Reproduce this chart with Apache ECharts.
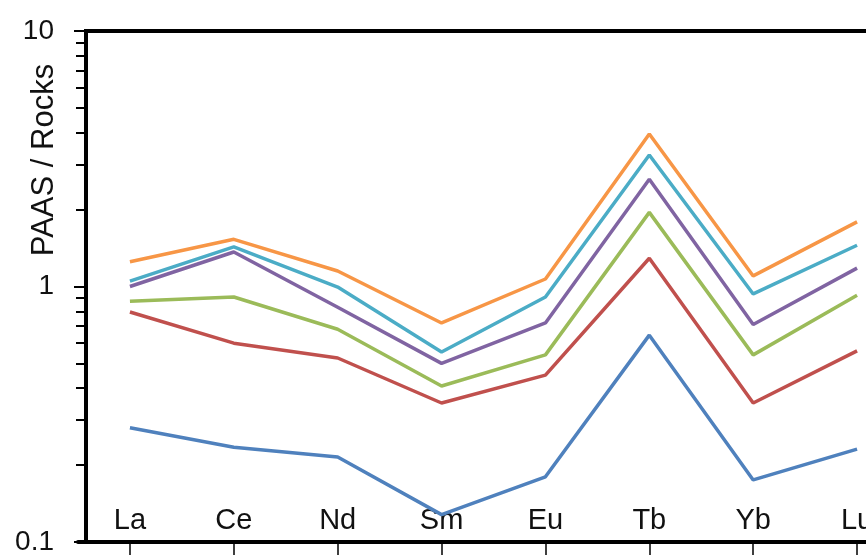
<!DOCTYPE html>
<html>
<head>
<meta charset="utf-8">
<script src="https://cdn.jsdelivr.net/npm/echarts@6/dist/echarts.min.js"></script>
<style>
  html, body { margin: 0; padding: 0; background: #fff; }
  #chart { width: 866px; height: 555px; }
</style>
</head>
<body>
<div id="chart"></div>
<script>
  // rare earth elements on the x axis
  const elements = ["La", "Ce", "Nd", "Sm", "Eu", "Tb", "Yb", "Lu"];

  // PAAS / Rocks ratios, one list per sample
  const sample1 = [0.28, 0.235, 0.215, 0.128, 0.18, 0.645, 0.175, 0.231];
  const sample2 = [0.795, 0.6, 0.525, 0.35, 0.45, 1.29, 0.35, 0.56];
  const sample3 = [0.875, 0.91, 0.68, 0.408, 0.54, 1.95, 0.54, 0.925];
  const sample4 = [1.0, 1.365, 0.83, 0.5, 0.72, 2.63, 0.71, 1.18];
  const sample5 = [1.05, 1.43, 0.995, 0.554, 0.91, 3.27, 0.935, 1.45];
  const sample6 = [1.25, 1.53, 1.15, 0.72, 1.07, 3.95, 1.1, 1.79];

  const yMin = 0.1;
  const yMax = 10;

  const colors = ["#4f81bd", "#c0504d", "#9bbb59", "#8064a2", "#4bacc6", "#f79646"];
  const allSamples = [sample1, sample2, sample3, sample4, sample5, sample6];

  const chart = echarts.init(document.getElementById("chart"));

  const option = {
    animation: false,
    backgroundColor: "#fff",
    grid: {
      left: 78,
      right: -43, // plot runs past the right edge, like the cropped original
      top: 31,
      bottom: 13,
      containLabel: false,
      outerBoundsMode: "none",
    },
    graphic: [
      {
        type: "line",
        shape: { x1: 84, y1: 31, x2: 866, y2: 31 },
        style: { stroke: "#000", lineWidth: 4 },
        z: 100,
      },
      {
        type: "text",
        x: 44,
        y: 160,
        rotation: Math.PI / 2,
        style: {
          text: "PAAS / Rocks",
          fontFamily: "Liberation Sans, Arial, sans-serif",
          fontSize: 31,
          fill: "#111",
          align: "center",
          verticalAlign: "middle",
        },
      },
    ],
    xAxis: {
      type: "category",
      data: elements,
      boundaryGap: true,
      axisLine: { show: true, lineStyle: { color: "#000", width: 4 } },
      axisTick: {
        show: true,
        alignWithLabel: true,
        inside: false,
        length: 14,
        lineStyle: { color: "#000", width: 1.5 },
      },
      axisLabel: {
        inside: true,
        margin: 7,
        color: "#111",
        fontSize: 29,
        fontFamily: "Liberation Sans, Arial, sans-serif",
      },
      splitLine: { show: false },
    },
    yAxis: {
      type: "log",
      logBase: 10,
      min: yMin,
      max: yMax,
      offset: -8,
      axisLine: { show: true, lineStyle: { color: "#000", width: 4 } },
      axisTick: { show: true, length: 12, lineStyle: { color: "#000", width: 2 } },
      minorTick: { show: true, splitNumber: 9, length: 10, lineStyle: { color: "#000", width: 2 } },
      axisLabel: {
        margin: 32,
        color: "#111",
        fontSize: 28,
        fontFamily: "Liberation Sans, Arial, sans-serif",
      },
      splitLine: { show: false },
    },
    series: allSamples.map((vals, i) => ({
      name: "sample " + (i + 1),
      type: "line",
      data: vals,
      symbol: "none",
      lineStyle: { color: colors[i], width: 3.5 },
      itemStyle: { color: colors[i] },
    })),
  };

  chart.setOption(option);
</script>
</body>
</html>
